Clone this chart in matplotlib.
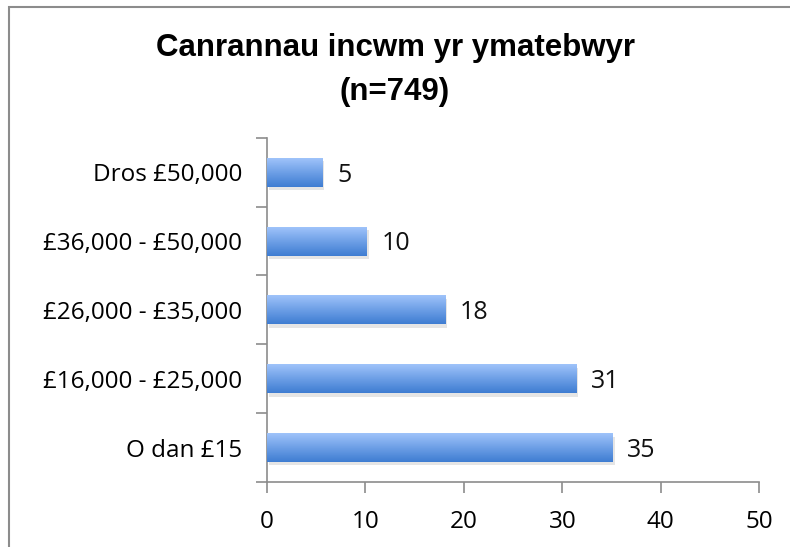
import matplotlib
import numpy as np

matplotlib.use("Agg")
import matplotlib.pyplot as plt
import matplotlib.patheffects as pe
from matplotlib.patches import Rectangle

categories = ["O dan £15", "£16,000 - £25,000", "£26,000 - £35,000",
              "£36,000 - £50,000", "Dros £50,000"]
values = [35.1, 31.4, 18.1, 10.1, 5.6]
value_labels = ["35", "31", "18", "10", "5"]
x_ticks = [0, 10, 20, 30, 40, 50]

plt.rcParams["font.family"] = ["Open Sans", "DejaVu Sans"]

fig = plt.figure(figsize=(7.9, 5.47), dpi=100)
ax = fig.add_axes([0.338, 0.119, 0.623, 0.629])

# outer chart frame (only top and left edges visible in the crop)
fig.patches.append(Rectangle((9 / 790, -0.1), 1.2, 1 - 7 / 547 + 0.1,
                             transform=fig.transFigure, fill=False,
                             edgecolor="#8c8c8c", linewidth=1.5))

y = np.arange(len(categories))
bars = ax.barh(y, values, height=0.42, color="#6a9be3", zorder=2,
               path_effects=[pe.SimplePatchShadow(offset=(1.5, -2.5),
                                                  shadow_rgbFace="#999999",
                                                  alpha=0.25),
                             pe.Normal()])

grad = np.linspace(0, 1, 64).reshape(-1, 1)
cmap = matplotlib.colors.LinearSegmentedColormap.from_list(
    "bluegrad", ["#3f7dd2", "#6d9fe6", "#9fc3fa"])
for b in bars:
    x0, y0 = b.get_x(), b.get_y()
    im = ax.imshow(grad, cmap=cmap, aspect="auto", origin="lower",
                   extent=(x0, x0 + b.get_width(), y0, y0 + b.get_height()),
                   zorder=3)
    im.set_clip_path(b)

for yi, v, lab in zip(y, values, value_labels):
    ax.text(v + 1.5, yi - 0.04, lab, va="center", ha="left", fontsize=18,
            color="#111111")

ax.set_xlim(0, 50)
ax.set_ylim(-0.5, len(categories) - 0.5)
ax.set_xticks(x_ticks)
ax.set_yticks(np.arange(len(categories) + 1) - 0.5)
ax.set_yticklabels([])
ax.set_yticks(y, minor=True)
ax.set_yticklabels(categories, minor=True)
ax.tick_params(axis="y", which="minor", length=0, labelsize=17.5, pad=18)
ax.tick_params(axis="y", which="major", length=8, color="#8c8c8c", width=1.2)
ax.tick_params(axis="x", length=8, color="#8c8c8c", width=1.2,
               labelsize=17.5, pad=12)

for s in ["top", "right"]:
    ax.spines[s].set_visible(False)
for s in ["left", "bottom"]:
    ax.spines[s].set_color("#8c8c8c")
    ax.spines[s].set_linewidth(1.2)

title_font = ["Liberation Sans Narrow", "Liberation Sans", "DejaVu Sans"]
fig.text(0.5, 1 - 48 / 547, "Canrannau incwm yr ymatebwyr", ha="center",
         va="center", fontsize=22.5, fontweight="bold", family=title_font)
fig.text(0.5, 1 - 92 / 547, "(n=749)", ha="center", va="center",
         fontsize=22.5, fontweight="bold", family=title_font)

fig.savefig("out.png", dpi=100)
